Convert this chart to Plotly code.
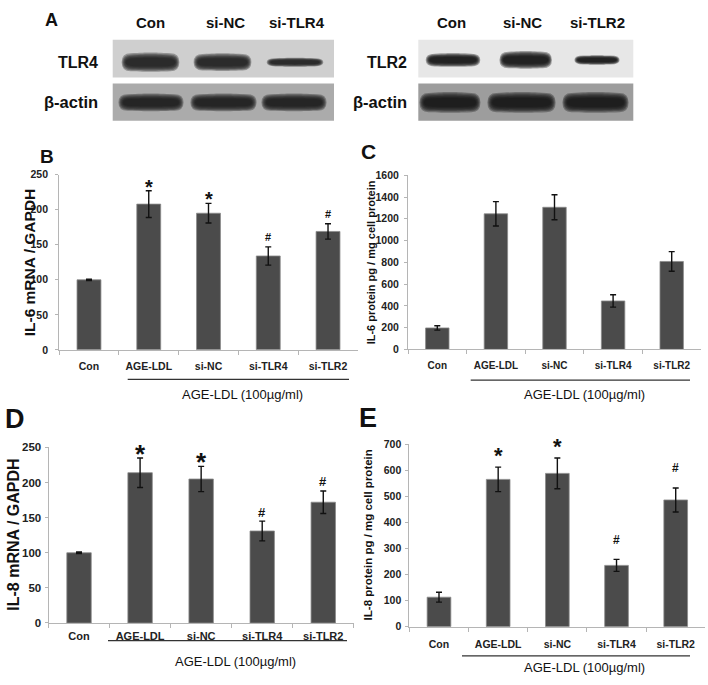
import plotly.graph_objects as go

W, H = 708, 685

# ---------------- data ----------------
categories = ["Con", "AGE-LDL", "si-NC", "si-TLR4", "si-TLR2"]

il6_mrna = [100, 208, 195, 134, 169]
il6_mrna_err = [1, 19, 14, 13, 11]
il6_protein = [197, 1246, 1306, 445, 808]
il6_protein_err = [20, 112, 115, 57, 90]
il8_mrna = [100, 214, 205, 131, 172]
il8_mrna_err = [1, 21, 18, 14, 16]
il8_protein = [113, 565, 588, 235, 486]
il8_protein_err = [19, 47, 59, 23, 46]

sig_b = ["", "*", "*", "#", "#"]
sig_c = ["", "", "", "", ""]
sig_d = ["", "*", "*", "#", "#"]
sig_e = ["", "*", "*", "#", "#"]

group_label = "AGE-LDL (100µg/ml)"

blot_left_lanes = ["Con", "si-NC", "si-TLR4"]
blot_right_lanes = ["Con", "si-NC", "si-TLR2"]
tlr4_intensity = [1.0, 0.92, 0.46]
actin_left_intensity = [1.0, 1.0, 1.0]
tlr2_intensity = [0.77, 1.0, 0.54]
actin_right_intensity = [1.0, 1.0, 1.0]

# ---------------- helpers ----------------
FONT = "Arial, 'Liberation Sans', sans-serif"
NARROW = "'Liberation Sans Narrow', 'Arial Narrow', Arial, sans-serif"


def px(x):
    return x / W


def py(y):
    return 1 - y / H


fig = go.Figure()
shapes = []
annotations = []


def text(x, y, s, size, bold=True, xanchor="center", yanchor="middle", angle=0, color="#111", family=FONT):
    annotations.append(dict(
        x=px(x), y=py(y), xref="paper", yref="paper", text=f"<b>{s}</b>" if bold else s,
        showarrow=False, xanchor=xanchor, yanchor=yanchor, textangle=angle,
        font=dict(family=family, size=size, color=color)))


def band_path(cx, cy, w, h):
    x0, x1 = cx - w / 2, cx + w / 2
    r = min(w / 2, 9)
    pts = [
        f"M {px(x0 + r)},{py(cy - h)}",
        f"C {px(cx)},{py(cy - h * 1.12)} {px(cx)},{py(cy - h * 1.12)} {px(x1 - r)},{py(cy - h)}",
        f"Q {px(x1)},{py(cy - h)} {px(x1)},{py(cy)}",
        f"Q {px(x1)},{py(cy + h)} {px(x1 - r)},{py(cy + h)}",
        f"C {px(cx)},{py(cy + h * 1.08)} {px(cx)},{py(cy + h * 1.08)} {px(x0 + r)},{py(cy + h)}",
        f"Q {px(x0)},{py(cy + h)} {px(x0)},{py(cy)}",
        f"Q {px(x0)},{py(cy - h)} {px(x0 + r)},{py(cy - h)} Z",
    ]
    return " ".join(pts)


def blot(x0, x1, y0, y1, bg, centers, widths, intensities, cy, thick, color):
    shapes.append(dict(type="rect", xref="paper", yref="paper", x0=px(x0), x1=px(x1),
                       y0=py(y1), y1=py(y0), fillcolor=bg, line=dict(width=0), layer="below"))
    for cx, w, it in zip(centers, widths, intensities):
        h = thick * it / 2
        for k in range(6):
            f = 1.4 - 0.16 * k
            hh = max(h * f, 0.8)
            ww = w * (1.05 - 0.03 * k)
            shapes.append(dict(type="path", xref="paper", yref="paper",
                               path=band_path(cx, cy, ww, hh),
                               fillcolor=color, opacity=0.34, line=dict(width=0), layer="below"))


# ---------------- panel A (western blots) ----------------
blot(112.7, 334, 34.3, 72.7, "#cfcfcf", [150.5, 222.5, 295], [55, 55, 54], tlr4_intensity, 57.3, 13, "#1c1c1c")
blot(112.7, 334, 79, 116.7, "#ababab", [151, 223.5, 294], [62, 63, 62], actin_left_intensity, 98.3, 12, "#1a1a1a")
blot(418.3, 633.3, 34.3, 72.7, "#e7e7e7", [453, 525.7, 597], [52, 50, 43], tlr2_intensity, 55, 12, "#121212")
blot(418.3, 633.3, 79, 116.7, "#9d9d9d", [450, 521.5, 595.5], [58, 65, 63], actin_right_intensity, 98.3, 14, "#151515")

for lane, cx in zip(blot_left_lanes, [150, 225, 297]):
    text(cx, 17, lane, 15)
for lane, cx in zip(blot_right_lanes, [451, 522, 597]):
    text(cx, 17, lane, 15)
text(100, 57, "TLR4", 16, xanchor="right")
text(100, 98, "β-actin", 16.5, xanchor="right")
text(409, 57, "TLR2", 16, xanchor="right")
text(409, 98, "β-actin", 16.5, xanchor="right")
text(51.5, 14, "A", 18)

# ---------------- bar panels ----------------
panels = [
    dict(vals=il6_mrna, errs=il6_mrna_err, sig=sig_b, x=(59.1, 357.9), y=(350, 171.7), rng=250, dtick=50,
         title="IL-6 mRNA / GAPDH", tsize=15.5, tx=29, tick=10.5, cat=10.5, catoff=7, ylab_off=5,
         letter=("B", 46.5, 153, 19), line=(127.7, 349, 380), glab=(243, 395),
         star=(20, 8.5), hash=(11, 10)),
    dict(vals=il6_protein, errs=il6_protein_err, sig=sig_c, x=(408, 701), y=(349.5, 172.3), rng=1600, dtick=200,
         title="IL-6 protein pg / mg cell protein", tsize=11, tx=371, tick=10.5, cat=10, catoff=7, ylab_off=3,
         letter=("C", 368, 148, 21), line=(470.7, 690, 380.7), glab=(584.8, 395),
         star=(20, 8), hash=(11, 10)),
    dict(vals=il8_mrna, errs=il8_mrna_err, sig=sig_d, x=(48.5, 353.8), y=(628, 449.3), rng=250, dtick=50,
         title="IL-8 mRNA / GAPDH", tsize=16, tx=13.5, tick=11.5, cat=11, catoff=3, ylab_off=1,
         letter=("D", 15, 420, 27), line=(108, 347, 646), glab=(235, 667),
         star=(26, 10), hash=(13, 9)),
    dict(vals=il8_protein, errs=il8_protein_err, sig=sig_e, x=(409.4, 705.3), y=(631.7, 446), rng=700, dtick=100,
         title="IL-8 protein pg / mg cell protein", tsize=11.5, tx=368, tick=10.5, cat=10.5, catoff=8, ylab_off=2,
         letter=("E", 368, 419, 27), line=(462, 690, 661.5), glab=(584, 673),
         star=(22, 16), hash=(12, 19.5)),
]

layout_axes = {}
for i, p in enumerate(panels, start=1):
    xa = "x" if i == 1 else f"x{i}"
    ya = "y" if i == 1 else f"y{i}"
    fig.add_trace(go.Bar(
        x=categories, y=p["vals"], xaxis=xa, yaxis=ya,
        marker=dict(color="#4b4b4b", line=dict(color="#8a8a8a", width=0.8)),
        error_y=dict(type="data", array=p["errs"], color="#111", thickness=1.4, width=3),
        showlegend=False, hoverinfo="skip"))
    layout_axes["xaxis" if i == 1 else f"xaxis{i}"] = dict(
        domain=[px(p["x"][0]), px(p["x"][1])], anchor=ya, type="category",
        showline=True, linecolor="#b5b5b5", linewidth=1, ticks="outside", tickson="boundaries",
        ticklen=4, tickcolor="#b5b5b5", showgrid=False, zeroline=False,
        ticklabelstandoff=p["catoff"],
        tickfont=dict(family=NARROW, size=p["cat"], color="#222"),
        tickprefix="<b>", ticksuffix="</b>", fixedrange=True)
    layout_axes["yaxis" if i == 1 else f"yaxis{i}"] = dict(
        domain=[py(p["y"][0]), py(p["y"][1])], anchor=xa, range=[0, p["rng"]], dtick=p["dtick"],
        showline=True, linecolor="#b5b5b5", linewidth=1, ticks="outside", ticklen=3,
        tickcolor="#b5b5b5", showgrid=False, zeroline=False, ticklabelstandoff=p["ylab_off"],
        tickfont=dict(family=NARROW, size=p["tick"], color="#222"),
        tickprefix="<b>", ticksuffix="</b>", fixedrange=True)

    text(p["tx"], (p["y"][0] + p["y"][1]) / 2, p["title"], p["tsize"], angle=-90)
    lt, lx, ly, ls = p["letter"]
    text(lx, ly, lt, ls)
    lx0, lx1, ly0 = p["line"]
    shapes.append(dict(type="line", xref="paper", yref="paper", x0=px(lx0), x1=px(lx1),
                       y0=py(ly0), y1=py(ly0), line=dict(color="#333", width=1.2)))
    text(p["glab"][0], p["glab"][1], group_label, 13, bold=False)
    for c, v, e, s in zip(categories, p["vals"], p["errs"], p["sig"]):
        if not s:
            continue
        if s == "*":
            fs, off = p["star"]
            shift = off - 0.22 * fs
        else:
            fs, off = p["hash"]
            shift = off
        annotations.append(dict(x=c, y=v + e, xref=xa, yref=ya, text=f"<b>{s}</b>",
                                showarrow=False, yanchor="middle", yshift=shift,
                                font=dict(family=FONT, size=fs, color="#111")))

fig.update_layout(
    width=W, height=H, margin=dict(l=0, r=0, t=0, b=0),
    paper_bgcolor="white", plot_bgcolor="white", bargap=0.6,
    shapes=shapes, annotations=annotations, **layout_axes)

fig.write_html("out.html", config={"displayModeBar": False},
               post_script="document.body.style.margin='0';document.body.style.overflow='hidden';")
